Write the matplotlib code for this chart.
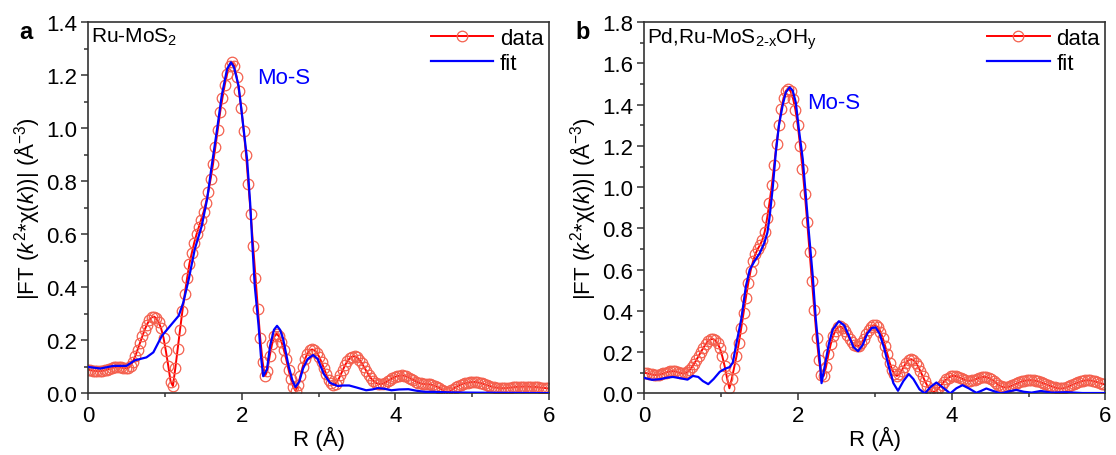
import numpy as np
import matplotlib
matplotlib.use("Agg")
import matplotlib.pyplot as plt
from matplotlib.ticker import MultipleLocator

plt.rcParams['font.family'] = ['Liberation Sans', 'DejaVu Sans']
plt.rcParams['mathtext.fontset'] = 'custom'
plt.rcParams['mathtext.rm'] = 'Liberation Sans'
plt.rcParams['mathtext.it'] = 'Liberation Sans:italic'

# R grid of the measured spectra (Å), 0.0307 Å step
r_data = np.arange(196) * 0.0307

# panel a: Ru-MoS2, measured |FT|
data_a = [
    0.090, 0.088, 0.086, 0.085, 0.084, 0.084, 0.085, 0.087, 0.090, 0.093,
    0.096, 0.098, 0.099, 0.099, 0.098, 0.096, 0.095, 0.096, 0.105, 0.120,
    0.140, 0.165, 0.190, 0.215, 0.240, 0.260, 0.277, 0.287, 0.290, 0.283,
    0.268, 0.245, 0.210, 0.160, 0.105, 0.045, 0.028, 0.095, 0.168, 0.240,
    0.310, 0.375, 0.435, 0.490, 0.530, 0.568, 0.600, 0.628, 0.655, 0.685,
    0.720, 0.760, 0.810, 0.865, 0.930, 0.995, 1.060, 1.115, 1.165, 1.205,
    1.235, 1.250, 1.235, 1.195, 1.140, 1.075, 0.990, 0.900, 0.790, 0.675,
    0.555, 0.435, 0.320, 0.210, 0.120, 0.065, 0.085, 0.140, 0.185, 0.215,
    0.225, 0.215, 0.195, 0.165, 0.130, 0.090, 0.055, 0.025, 0.010, 0.030,
    0.065, 0.100, 0.130, 0.150, 0.162, 0.166, 0.163, 0.153, 0.138, 0.118,
    0.095, 0.072, 0.052, 0.038, 0.032, 0.037, 0.050, 0.068, 0.088, 0.107,
    0.122, 0.133, 0.139, 0.140, 0.136, 0.127, 0.115, 0.100, 0.085, 0.070,
    0.057, 0.047, 0.040, 0.036, 0.035, 0.037, 0.041, 0.046, 0.052, 0.057,
    0.062, 0.065, 0.067, 0.068, 0.067, 0.064, 0.060, 0.055, 0.050, 0.045,
    0.041, 0.038, 0.036, 0.035, 0.035, 0.034, 0.032, 0.029, 0.025, 0.020,
    0.014, 0.008, 0.004, 0.006, 0.012, 0.018, 0.024, 0.029, 0.033, 0.036,
    0.039, 0.041, 0.042, 0.043, 0.043, 0.042, 0.040, 0.038, 0.035, 0.032,
    0.029, 0.026, 0.024, 0.022, 0.021, 0.020, 0.020, 0.020, 0.021, 0.022,
    0.023, 0.024, 0.025, 0.025, 0.026, 0.026, 0.026, 0.026, 0.025, 0.025,
    0.024, 0.023, 0.022, 0.021, 0.020, 0.019,
]

# panel a: fit
r_fit_a = [0, 0.16, 0.33, 0.5, 0.61, 0.76, 0.85, 0.96, 1.07, 1.18,
           1.24, 1.31, 1.39, 1.48, 1.55, 1.61, 1.68, 1.74, 1.81, 1.86,
           1.90, 1.96, 2.01, 2.07, 2.11, 2.14, 2.17, 2.22, 2.25, 2.28,
           2.33, 2.37, 2.42, 2.46, 2.50, 2.54, 2.61, 2.66, 2.70, 2.75,
           2.80, 2.86, 2.93, 2.99, 3.07, 3.15, 3.25, 3.32, 3.40, 3.50,
           3.62, 3.70, 3.77, 3.85, 3.95, 4.05, 4.17, 4.28, 4.39, 4.5,
           4.7, 5.0, 5.5, 6.0]
fit_a = [0.100, 0.094, 0.104, 0.104, 0.125, 0.136, 0.155, 0.217, 0.255, 0.293,
         0.343, 0.430, 0.545, 0.632, 0.733, 0.859, 0.997, 1.123, 1.224, 1.249,
         1.230, 1.160, 1.035, 0.884, 0.720, 0.557, 0.406, 0.255, 0.142, 0.065,
         0.092, 0.180, 0.240, 0.255, 0.240, 0.205, 0.104, 0.050, 0.024, 0.045,
         0.095, 0.130, 0.145, 0.130, 0.073, 0.040, 0.028, 0.030, 0.030, 0.022,
         0.012, 0.015, 0.020, 0.018, 0.012, 0.015, 0.016, 0.010, 0.006, 0.006,
         0.004, 0.003, 0.002, 0.001]

# panel b: Pd,Ru-MoS2-xOHy, measured |FT|
data_b = [
    0.100, 0.098, 0.095, 0.092, 0.090, 0.089, 0.090, 0.093, 0.097, 0.101,
    0.105, 0.107, 0.108, 0.107, 0.104, 0.100, 0.097, 0.097, 0.102, 0.112,
    0.126, 0.143, 0.162, 0.182, 0.203, 0.222, 0.240, 0.254, 0.262, 0.264,
    0.258, 0.243, 0.218, 0.180, 0.132, 0.075, 0.025, 0.070, 0.125, 0.180,
    0.245, 0.315, 0.390, 0.465, 0.535, 0.595, 0.640, 0.675, 0.700, 0.720,
    0.745, 0.785, 0.850, 0.925, 1.010, 1.110, 1.210, 1.300, 1.380, 1.435,
    1.468, 1.478, 1.465, 1.430, 1.375, 1.300, 1.200, 1.090, 0.965, 0.830,
    0.685, 0.545, 0.405, 0.270, 0.160, 0.090, 0.085, 0.130, 0.190, 0.240,
    0.280, 0.305, 0.320, 0.325, 0.318, 0.303, 0.285, 0.265, 0.248, 0.235,
    0.229, 0.232, 0.245, 0.265, 0.288, 0.308, 0.322, 0.330, 0.330, 0.320,
    0.300, 0.270, 0.232, 0.190, 0.148, 0.115, 0.094, 0.085, 0.092, 0.110,
    0.130, 0.150, 0.162, 0.166, 0.162, 0.150, 0.131, 0.108, 0.083, 0.058,
    0.036, 0.019, 0.009, 0.008, 0.016, 0.029, 0.043, 0.057, 0.068, 0.077,
    0.083, 0.085, 0.084, 0.080, 0.075, 0.070, 0.065, 0.062, 0.061, 0.063,
    0.067, 0.072, 0.076, 0.079, 0.080, 0.079, 0.075, 0.069, 0.061, 0.052,
    0.043, 0.036, 0.031, 0.029, 0.030, 0.034, 0.039, 0.044, 0.049, 0.054,
    0.058, 0.061, 0.063, 0.064, 0.064, 0.063, 0.061, 0.058, 0.054, 0.050,
    0.046, 0.041, 0.037, 0.033, 0.029, 0.026, 0.024, 0.024, 0.026, 0.030,
    0.035, 0.040, 0.045, 0.050, 0.054, 0.058, 0.061, 0.063, 0.064, 0.063,
    0.061, 0.058, 0.055, 0.051, 0.047, 0.044,
]

# panel b: fit
r_fit_b = [0, 0.1, 0.2, 0.3, 0.37, 0.45, 0.56, 0.63, 0.7, 0.76,
           0.83, 0.9, 0.98, 1.05, 1.11, 1.15, 1.19, 1.26, 1.32, 1.37,
           1.43, 1.50, 1.56, 1.60, 1.63, 1.67, 1.71, 1.75, 1.80, 1.84,
           1.89, 1.93, 1.97, 2.01, 2.06, 2.10, 2.14, 2.19, 2.23, 2.28,
           2.305, 2.35, 2.40, 2.45, 2.53, 2.60, 2.66, 2.72, 2.78, 2.84,
           2.90, 2.96, 3.01, 3.06, 3.12, 3.18, 3.24, 3.30, 3.37, 3.44,
           3.50, 3.58, 3.65, 3.72, 3.80, 3.88, 3.98, 4.06, 4.14, 4.22,
           4.32, 4.38, 4.45, 4.54, 4.64, 4.74, 4.84, 4.94, 5.04, 5.16,
           5.30, 5.50, 5.70, 6.00]
fit_b = [0.075, 0.066, 0.069, 0.077, 0.080, 0.075, 0.067, 0.085, 0.080, 0.060,
         0.045, 0.070, 0.105, 0.120, 0.128, 0.150, 0.230, 0.360, 0.520, 0.600,
         0.640, 0.680, 0.730, 0.780, 0.860, 1.000, 1.170, 1.300, 1.400, 1.460,
         1.485, 1.468, 1.410, 1.280, 1.137, 0.960, 0.780, 0.570, 0.360, 0.166,
         0.050, 0.140, 0.240, 0.310, 0.350, 0.330, 0.280, 0.225, 0.205, 0.235,
         0.290, 0.318, 0.320, 0.290, 0.220, 0.130, 0.050, 0.013, 0.060, 0.094,
         0.070, 0.020, 0.000, 0.030, 0.053, 0.030, 0.000, 0.025, 0.040, 0.025,
         0.003, 0.012, 0.024, 0.012, 0.000, 0.010, 0.017, 0.008, 0.004, 0.012,
         0.004, 0.006, 0.002, 0.002]

panels = [
    dict(letter='a', sample='Ru-MoS$_2$', data=data_a, rf=r_fit_a, fit=fit_a,
         ymax=1.4, mos=(2.2, 1.19)),
    dict(letter='b', sample='Pd,Ru-MoS$_{\\text{2-x}}$OH$_\\mathrm{y}$', data=data_b,
         rf=r_fit_b, fit=fit_b, ymax=1.8, mos=(2.12, 1.41)),
]

fig = plt.figure(figsize=(11.16, 4.56), dpi=100)
lefts = [0.0789, 0.5775]

for p, left in zip(panels, lefts):
    ax = fig.add_axes([left, 0.135, 0.413, 0.814])
    ax.plot(r_data, p['data'], '-o', color='#ff0000', lw=1.4, ms=7.6,
            mfc='none', mec='#f4604e', mew=0.9, label='data', zorder=2)
    ax.plot(p['rf'], p['fit'], '-', color='#0000ff', lw=1.6, label='fit', zorder=3)

    ax.set_xlim(0, 6)
    ax.set_ylim(0, p['ymax'])
    ax.xaxis.set_major_locator(MultipleLocator(2))
    ax.xaxis.set_minor_locator(MultipleLocator(1))
    ax.yaxis.set_major_locator(MultipleLocator(0.2))
    ax.yaxis.set_minor_locator(MultipleLocator(0.1))
    ax.xaxis.set_major_formatter(plt.FuncFormatter(lambda v, pos: '%d' % v))
    ax.yaxis.set_major_formatter(plt.FuncFormatter(lambda v, pos: '%.1f' % v))
    ax.tick_params(which='both', direction='out', top=False, right=False,
                   labelsize=16, color='#333333', width=1.1)
    ax.tick_params(which='major', length=5, pad=3)
    ax.tick_params(which='minor', length=3)
    for s in ax.spines.values():
        s.set_color('#333333')
        s.set_linewidth(1.2)

    ax.set_xlabel('R (Å)', fontsize=16, labelpad=0)
    ax.set_ylabel('|FT ($k^2$*χ($k$))| (Å$^{-3}$)', fontsize=16, labelpad=3)

    ax.text(0.006, 0.99, p['sample'], transform=ax.transAxes, fontsize=15,
            va='top', ha='left')
    ax.text(p['mos'][0], p['mos'][1], 'Mo-S', color='#0000ff', fontsize=16,
            va='center', ha='left')
    ax.text(-0.15, 0.975, p['letter'], transform=ax.transAxes, fontsize=17,
            fontweight='bold', va='center', ha='left')

    ax.legend(loc='upper right', frameon=False, fontsize=16, handlelength=2.8,
              handletextpad=0.3, borderaxespad=0.05, labelspacing=0.2,
              borderpad=0.2)

fig.savefig('out.png', dpi=100)
